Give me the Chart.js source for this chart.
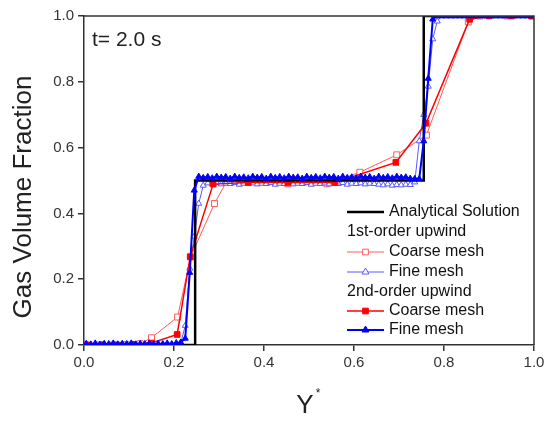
<!DOCTYPE html>
<html><head><meta charset="utf-8">
<script src="https://cdn.jsdelivr.net/npm/chart.js@4.4.1/dist/chart.umd.min.js"></script>
<style>html,body{margin:0;padding:0;background:#fff}#wrap{width:552px;height:425px}</style>
</head><body><div id="wrap"><canvas id="c" width="552" height="425"></canvas></div>
<script>
// ---- data ----
const analyticX = [0, 0.247, 0.247, 0.755, 0.755, 1.0];
const analyticY = [0, 0, 0.5, 0.5, 1.0, 1.0];

const coarse1X = [0.005,0.035,0.065,0.095,0.125,0.150,0.208,0.237,0.290,0.317,0.453,0.540,0.613,0.695,0.761,0.854,0.880,0.940,0.995];
const coarse1st = [0,0,0,0.001,0.004,0.022,0.085,0.268,0.43,0.497,0.49,0.49,0.525,0.578,0.638,0.982,1,1,1];
const coarse2X = [0.005,0.040,0.075,0.110,0.150,0.207,0.236,0.287,0.365,0.453,0.558,0.693,0.760,0.857,0.900,0.950,0.995];
const coarse2nd = [0,0.001,0,0.002,0.006,0.032,0.268,0.489,0.494,0.494,0.494,0.555,0.674,0.99,1,1,1];

const fineX = [0.005,0.015,0.025,0.035,0.045,0.055,0.065,0.075,0.085,0.095,0.105,0.115,0.125,0.135,0.145,0.155,0.165,0.175,0.185,0.195,0.205,0.215,0.225,0.235,0.245,0.255,0.265,0.275,0.285,0.295,0.305,0.315,0.325,0.335,0.345,0.355,0.365,0.375,0.385,0.395,0.405,0.415,0.425,0.435,0.445,0.455,0.465,0.475,0.485,0.495,0.505,0.515,0.525,0.535,0.545,0.555,0.565,0.575,0.585,0.595,0.605,0.615,0.625,0.635,0.645,0.655,0.665,0.675,0.685,0.695,0.705,0.715,0.725,0.735,0.745,0.755,0.765,0.775,0.785,0.795,0.805,0.815,0.825,0.835,0.845,0.855,0.865,0.875,0.885,0.895,0.905,0.915,0.925,0.935,0.945,0.955,0.965,0.975,0.985,0.995];
const fine1st = [0,0.001,0,0.001,0,0.001,0,0.001,0,0.001,0,0.001,0,0.001,0,0.001,0,0.001,0,0.001,0.002,0.006,0.059,0.233,0.33,0.43,0.485,
  0.492,0.49,0.493,0.489,0.491,0.49,0.493,0.488,0.491,0.49,0.492,0.489,0.491,0.49,0.493,0.488,0.491,0.49,0.492,0.489,0.491,0.49,0.493,0.488,0.491,0.49,0.492,0.489,0.491,0.49,0.493,0.488,0.491,0.49,0.492,0.489,0.491,0.49,0.488,0.486,0.489,0.485,0.487,0.486,0.488,0.487,
  0.495,0.62,0.70,0.786,0.93,0.984,
  1,1,1,1,1,1,1,1,1,1,1,1,1,1,1,1,1,1,1,1,1];
const fine2nd = [0.004,0.002,0.005,0.001,0.004,0.003,0.005,0.002,0.004,0.003,0.005,0.002,0.004,0.003,0.005,0.002,0.004,0.003,0.005,0.003,0.006,0.008,0.02,0.22,0.47,
  0.512,0.508,0.511,0.507,0.512,0.509,0.511,0.506,0.512,0.508,0.510,0.507,0.512,0.509,0.511,0.506,0.512,0.508,0.511,0.507,0.512,0.509,0.510,0.506,0.512,0.508,0.511,0.507,0.512,0.509,0.511,0.506,0.512,0.508,0.510,0.507,0.512,0.509,0.511,0.506,0.512,0.508,0.511,0.507,0.512,0.509,0.510,0.506,0.505,
  0.505,0.62,0.81,0.99,
  1,1,1,1,1,1,1,1,1,1,1,1,1,1,1,1,1,1,1,1,1,1];

const xTicks = [0, 0.2, 0.4, 0.6, 0.8, 1.0];
const yTicks = [0, 0.2, 0.4, 0.6, 0.8, 1.0];
const legendLabels = ['Analytical Solution','1st-order upwind','Coarse mesh','Fine mesh','2nd-order upwind','Coarse mesh','Fine mesh'];

const pts = (xs, ys) => xs.map((x, i) => ({x: x, y: ys[i]}));

const COL = {a:'#000000', c1:'#ff5a5a', f1:'#5a5aff', c2:'#ff0000', f2:'#0000ff'};

function drawMarker(ctx, style, x, y, r, stroke, fill, lw) {
  ctx.save();
  ctx.beginPath();
  if (style === 'rect') {
    const s = Math.SQRT1_2 * r;
    ctx.rect(x - s, y - s, 2*s, 2*s);
  } else {
    const h = r;
    ctx.moveTo(x, y - h);
    ctx.lineTo(x + h*0.866, y + h*0.5);
    ctx.lineTo(x - h*0.866, y + h*0.5);
    ctx.closePath();
  }
  ctx.fillStyle = fill; ctx.fill();
  ctx.lineWidth = lw; ctx.strokeStyle = stroke; ctx.stroke();
  ctx.restore();
}

const decor = {
  id: 'decor',
  afterDraw(chart) {
    const ctx = chart.ctx, a = chart.chartArea;
    ctx.save();
    ctx.strokeStyle = '#333'; ctx.lineWidth = 1.5;
    ctx.beginPath();
    ctx.moveTo(a.left, a.top); ctx.lineTo(a.right, a.top); ctx.lineTo(a.right, a.bottom);
    ctx.stroke();
    ctx.fillStyle = '#222';
    ctx.font = '21px Arial, "Liberation Sans", sans-serif';
    ctx.textAlign = 'left'; ctx.textBaseline = 'alphabetic';
    ctx.fillText('t= 2.0 s', 92, 46);
    ctx.save();
    ctx.translate(31, 197);
    ctx.rotate(-Math.PI/2);
    ctx.font = '26px Arial, "Liberation Sans", sans-serif';
    ctx.textAlign = 'center'; ctx.textBaseline = 'alphabetic';
    ctx.fillText('Gas Volume Fraction', 0, 0);
    ctx.restore();
    ctx.font = '26px Arial, "Liberation Sans", sans-serif';
    ctx.textAlign = 'center';
    ctx.fillText('Y', 305, 413);
    ctx.font = '12px Arial, "Liberation Sans", sans-serif';
    ctx.fillText('*', 318, 397);
    const lx0 = 347, lx1 = 384, tx = 389;
    const rowY = [212, 232, 252, 272, 292, 311, 330];
    ctx.font = '16px Arial, "Liberation Sans", sans-serif';
    ctx.textBaseline = 'middle'; ctx.textAlign = 'left';
    const items = [
      {t:'line', c:COL.a, w:2.5},
      {t:'head'},
      {t:'line', c:COL.c1, w:1, m:'rect', f:'#fff'},
      {t:'line', c:COL.f1, w:1, m:'triangle', f:'#fff'},
      {t:'head'},
      {t:'line', c:COL.c2, w:1.5, m:'rect', f:COL.c2},
      {t:'line', c:COL.f2, w:2, m:'triangle', f:COL.f2}
    ];
    items.forEach((it, i) => {
      const y = rowY[i];
      ctx.fillStyle = '#111';
      if (it.t === 'head') { ctx.fillText(legendLabels[i], lx0, y); return; }
      ctx.strokeStyle = it.c; ctx.lineWidth = it.w;
      ctx.beginPath(); ctx.moveTo(lx0, y); ctx.lineTo(lx1, y); ctx.stroke();
      if (it.m) drawMarker(ctx, it.m, (lx0+lx1)/2, y, 4, it.c, it.f, 1);
      ctx.fillStyle = '#111';
      ctx.fillText(legendLabels[i], tx, y);
    });
    ctx.restore();
  }
};

new Chart(document.getElementById('c'), {
  type: 'line',
  data: {
    datasets: [
      {label: '2nd fine', data: pts(fineX, fine2nd), borderColor: COL.f2, backgroundColor: COL.f2, borderWidth: 2, pointStyle: 'triangle', pointRadius: 3.5, pointBorderWidth: 1, order: 0},
      {label: 'Analytical', data: pts(analyticX, analyticY), borderColor: COL.a, borderWidth: 2.5, pointRadius: 0, order: 1},
      {label: '2nd coarse', data: pts(coarse2X, coarse2nd), borderColor: COL.c2, backgroundColor: COL.c2, borderWidth: 1.5, pointStyle: 'rect', pointRadius: 4, pointBorderWidth: 1, order: 2},
      {label: '1st fine', data: pts(fineX, fine1st), borderColor: COL.f1, backgroundColor: '#fff', borderWidth: 1, pointStyle: 'triangle', pointRadius: 3.5, pointBorderWidth: 1, order: 3},
      {label: '1st coarse', data: pts(coarse1X, coarse1st), borderColor: COL.c1, backgroundColor: '#fff', borderWidth: 1, pointStyle: 'rect', pointRadius: 4.2, pointBorderWidth: 1, order: 4}
    ]
  },
  options: {
    responsive: false,
    animation: false,
    events: [],
    layout: {padding: {left: 0, right: 18, top: 16, bottom: 0}},
    elements: {line: {tension: 0}},
    plugins: {legend: {display: false}, tooltip: {enabled: false}},
    scales: {
      x: {
        type: 'linear', min: 0, max: 1,
        afterBuildTicks: s => { s.ticks = xTicks.map(v => ({value: v})); },
        afterFit: s => { s.height = 80; },
        grid: {display: true, drawOnChartArea: false, drawTicks: true, tickLength: 6, color: '#333', lineWidth: 1.5},
        border: {display: true, color: '#333', width: 1.5},
        ticks: {color: '#333', font: {family: 'Arial, "Liberation Sans", sans-serif', size: 15}, padding: 3, maxRotation: 0,
          callback: v => Number(v).toFixed(1)}
      },
      y: {
        type: 'linear', min: 0, max: 1,
        afterBuildTicks: s => { s.ticks = yTicks.map(v => ({value: v})); },
        afterFit: s => { s.width = 84; },
        grid: {display: true, drawOnChartArea: false, drawTicks: true, tickLength: 6, color: '#333', lineWidth: 1.5},
        border: {display: true, color: '#333', width: 1.5},
        ticks: {color: '#333', font: {family: 'Arial, "Liberation Sans", sans-serif', size: 15}, padding: 4,
          callback: v => Number(v).toFixed(1)}
      }
    }
  },
  plugins: [decor]
});
</script>
</body></html>
